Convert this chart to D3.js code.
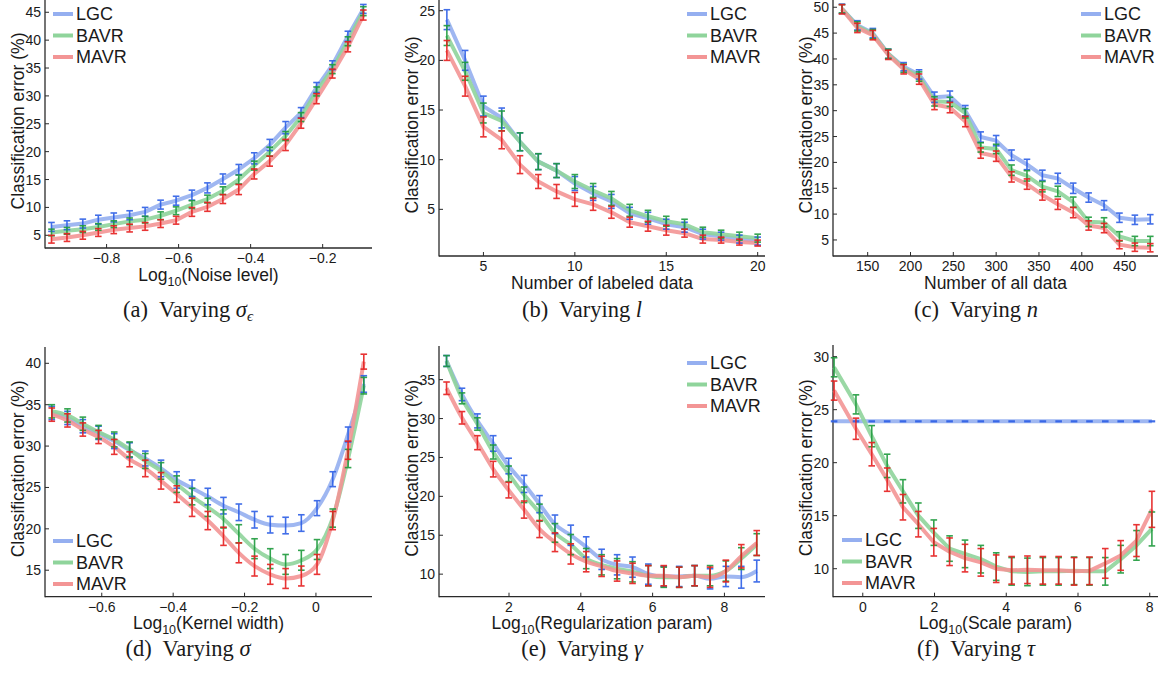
<!DOCTYPE html>
<html><head><meta charset="utf-8">
<script src="https://cdn.jsdelivr.net/npm/d3@7"></script>
<style>
body{margin:0;background:#fff}
svg text{font-family:"Liberation Sans",Arial,sans-serif;fill:#1a1a1a}
svg text.cap{font-family:"Liberation Serif","Times New Roman",serif}
</style></head><body>
<svg id="fig" width="1159" height="677"></svg>
<script>
const seriesNames = ["LGC", "BAVR", "MAVR"];
const lineColors = ["#95aff0", "#8fd49b", "#f39595"];
const barColors = ["#2d5fe6", "#1e9b3d", "#e61f1f"];

// (a) noise level
const xA = [-0.953,-0.910,-0.866,-0.823,-0.780,-0.736,-0.693,-0.650,-0.607,-0.563,-0.520,-0.477,-0.433,-0.390,-0.347,-0.303,-0.260,-0.217,-0.173,-0.130,-0.087];
const aLGC  = [6.5,6.8,7.1,7.8,8.2,8.6,9.2,10.5,11.2,12.2,13.5,15.1,16.8,18.8,21.2,24.3,27.0,31.5,35.5,40.7,45.6];
const aBAVR = [5.5,5.8,6.1,6.5,7.0,7.5,7.8,8.5,9.4,10.5,11.5,13.0,15.0,17.5,20.0,22.8,26.2,30.8,34.8,39.8,45.2];
const aMAVR = [4.3,4.6,5.0,5.5,6.0,6.3,6.6,7.1,7.7,9.2,10.1,11.5,13.2,16.0,18.3,21.2,25.1,29.5,34.0,38.8,44.5];
const aErrLGC  = [0.8,0.8,0.8,0.8,0.8,0.8,0.8,0.8,0.8,0.9,0.9,0.9,0.9,1.0,1.0,1.1,0.9,0.9,0.8,0.9,0.8];
const aErrBAVR = [0.6,0.6,0.6,0.6,0.6,0.6,0.6,0.7,0.7,0.7,0.7,0.7,0.8,0.8,0.8,0.8,0.8,0.8,0.8,0.8,0.8];
const aErrMAVR = [0.7,0.7,0.7,0.7,0.7,0.7,0.7,0.7,0.7,0.8,0.8,0.8,0.9,0.9,0.9,1.0,0.9,0.9,0.8,0.9,0.9];

// (b) labeled data
const xB = [3,4,5,6,7,8,9,10,11,12,13,14,15,16,17,18,19,20];
const bLGC  = [24.1,20.0,15.4,14.2,11.8,9.8,8.9,7.6,6.6,5.8,4.6,4.1,3.5,3.2,2.5,2.3,2.0,1.8];
const bBAVR = [22.5,18.9,14.7,13.9,11.8,9.8,8.9,7.8,6.9,6.1,4.9,4.3,3.8,3.5,2.7,2.5,2.3,2.1];
const bMAVR = [21.0,17.4,13.3,12.0,9.5,7.8,6.8,6.0,5.5,4.7,3.7,3.3,2.9,2.6,2.0,1.9,1.7,1.6];
const bErrLGC  = [1.0,1.0,1.0,1.0,0.9,0.8,0.7,0.7,0.7,0.7,0.6,0.6,0.5,0.5,0.5,0.4,0.4,0.4];
const bErrBAVR = [1.0,0.9,1.0,1.0,0.9,0.8,0.7,0.7,0.7,0.7,0.6,0.6,0.5,0.5,0.5,0.4,0.4,0.4];
const bErrMAVR = [1.0,1.0,1.0,0.9,0.9,0.7,0.7,0.7,0.6,0.6,0.5,0.5,0.5,0.4,0.4,0.3,0.3,0.3];

// (c) all data
const xC = [120,138,156,174,192,210,228,246,264,282,300,318,336,354,372,390,408,426,444,462,480];
const cLGC  = [49.7,46.5,45.0,41.0,38.5,37.0,32.6,32.8,30.0,24.9,24.2,21.4,19.6,17.5,16.9,15.0,13.2,11.7,9.3,8.9,9.0];
const cBAVR = [49.7,46.3,44.8,41.0,38.2,36.6,31.8,31.7,29.5,22.9,22.6,18.5,17.4,15.3,14.4,12.3,8.5,8.4,5.7,4.8,4.8];
const cMAVR = [49.6,46.0,44.6,40.8,38.0,36.1,31.2,30.6,27.9,21.8,21.2,17.2,15.8,13.7,11.9,10.3,7.8,7.3,4.1,3.6,3.5];
const cErrLGC  = [0.9,0.9,0.9,0.9,0.8,0.9,1.0,1.0,1.0,1.0,1.0,1.0,1.0,1.0,1.0,1.0,0.9,0.9,0.9,0.9,0.9];
const cErrBAVR = [0.8,0.9,0.9,0.9,0.8,0.9,0.9,0.9,0.9,0.9,0.9,1.0,1.0,1.0,1.0,1.0,0.9,0.9,0.9,0.9,0.9];
const cErrMAVR = [0.9,0.9,0.9,0.9,0.9,1.0,1.0,1.0,1.0,1.0,1.0,1.0,1.0,1.0,1.0,1.0,0.9,0.9,0.8,0.8,0.8];

// (d) kernel width
const xD = [-0.740,-0.696,-0.653,-0.609,-0.565,-0.522,-0.478,-0.434,-0.390,-0.347,-0.303,-0.259,-0.216,-0.172,-0.128,-0.085,-0.041,0.003,0.047,0.090,0.134];
const dLGC  = [34.0,33.4,32.4,31.6,30.6,29.5,28.5,27.3,25.9,24.9,23.9,22.8,22.0,21.1,20.5,20.4,20.7,22.5,26.0,31.4,37.5];
const dBAVR = [34.2,33.7,32.7,31.7,30.8,29.6,28.2,27.0,25.4,23.9,22.6,21.2,19.4,17.6,16.4,15.7,16.2,17.5,21.3,28.5,37.3];
const dMAVR = [33.8,33.1,32.0,31.1,29.9,28.4,27.3,25.8,24.2,22.6,21.0,19.1,17.1,15.5,14.5,14.0,14.3,15.7,21.0,29.5,40.2];
const dErrLGC  = [0.8,0.8,0.8,0.8,0.9,0.9,0.9,1.0,1.0,1.0,1.0,1.0,1.0,1.0,1.0,1.0,1.0,0.9,0.9,0.9,1.0];
const dErrBAVR = [0.8,0.8,0.8,0.8,0.9,0.9,0.9,1.0,1.0,1.0,1.1,1.1,1.1,1.2,1.2,1.2,1.2,1.2,1.1,1.1,1.0];
const dErrMAVR = [0.8,0.8,0.8,0.8,0.9,0.9,1.0,1.0,1.0,1.1,1.1,1.1,1.2,1.2,1.2,1.2,1.2,1.2,1.1,1.1,0.9];

// (e) regularization
const xE = [0.26,0.69,1.12,1.56,1.99,2.42,2.85,3.28,3.72,4.15,4.58,5.01,5.44,5.88,6.31,6.74,7.17,7.60,8.04,8.47,8.90];
const eLGC  = [37.4,33.1,29.7,26.8,23.9,21.6,19.0,16.4,15.0,13.5,11.9,11.2,10.9,10.0,9.7,9.7,9.8,9.4,9.7,9.6,10.4];
const eBAVR = [37.4,32.6,29.3,25.7,22.9,20.2,17.9,15.3,13.8,12.0,11.2,10.7,10.3,9.8,9.6,9.6,9.8,9.8,10.4,12.0,13.8];
const eMAVR = [33.9,30.1,26.9,23.5,20.8,18.3,15.8,14.1,12.6,11.6,11.0,10.4,10.1,9.8,9.8,9.6,9.8,9.6,10.4,12.3,14.0];
const eErrLGC  = [0.7,0.8,0.9,1.0,1.0,1.1,1.1,1.2,1.3,1.3,1.3,1.3,1.3,1.3,1.3,1.3,1.3,1.3,1.3,1.4,1.4];
const eErrBAVR = [0.7,0.7,0.8,0.9,1.0,1.0,1.1,1.2,1.3,1.3,1.3,1.3,1.3,1.3,1.3,1.3,1.3,1.3,1.3,1.4,1.4];
const eErrMAVR = [0.8,0.8,0.9,1.0,1.0,1.1,1.1,1.2,1.3,1.3,1.3,1.3,1.3,1.3,1.3,1.3,1.3,1.3,1.4,1.5,1.6];

// (f) scale param
const xF = [-0.80,-0.19,0.25,0.68,1.12,1.55,1.98,2.42,2.85,3.29,3.72,4.15,4.59,5.02,5.46,5.89,6.32,6.76,7.19,7.63,8.06];
const fLGC  = [23.9,23.9,23.9,23.9,23.9,23.9,23.9,23.9,23.9,23.9,23.9,23.9,23.9,23.9,23.9,23.9,23.9,23.9,23.9,23.9,23.9];
const fBAVR = [29.0,25.5,22.5,19.7,17.3,15.0,13.4,11.9,11.4,10.9,10.2,9.75,9.7,9.75,9.75,9.8,9.75,9.75,10.9,12.2,13.75];
const fMAVR = [26.8,23.2,20.8,18.4,15.8,14.2,12.5,11.6,11.0,10.6,10.0,9.85,9.9,9.85,9.85,9.75,9.8,10.5,11.25,12.65,15.6];
const fErrLGC  = [0,0,0,0,0,0,0,0,0,0,0,0,0,0,0,0,0,0,0,0,0];
const fErrBAVR = [0.9,0.9,1.0,1.1,1.1,1.2,1.2,1.2,1.3,1.3,1.3,1.3,1.3,1.3,1.3,1.3,1.3,1.3,1.3,1.4,1.6];
const fErrMAVR = [0.9,1.0,1.1,1.1,1.2,1.2,1.3,1.3,1.3,1.3,1.3,1.3,1.3,1.3,1.3,1.3,1.3,1.4,1.4,1.5,1.7];

const svg = d3.select("#fig");

const panels = [
  {x:xA, ys:[aLGC,aBAVR,aMAVR], es:[aErrLGC,aErrBAVR,aErrMAVR], xr:[45,372], xd:[-0.971,-0.063], yr:[248,0], yd:[2.72,47.2],
   xt:[-0.8,-0.6,-0.4,-0.2], yt:[5,10,15,20,25,30,35,40,45], xl:["Log","10","(Noise level)"], cap:"a", sym:"σ", sub:"ϵ", lg:[53,14], top:0, curve:d3.curveLinear},
  {x:xB, ys:[bLGC,bBAVR,bMAVR], es:[bErrLGC,bErrBAVR,bErrMAVR], xr:[439,765], xd:[2.57,20.4], yr:[256,0], yd:[0.3,26.08],
   xt:[5,10,15,20], yt:[5,10,15,20,25], xl:["Number of labeled data"], cap:"b", sym:"l", lg:[687,14], top:0, curve:d3.curveLinear},
  {x:xC, ys:[cLGC,cBAVR,cMAVR], es:[cErrLGC,cErrBAVR,cErrMAVR], xr:[833,1158], xd:[109.5,489], yr:[256,0], yd:[1.9,51.4],
   xt:[150,200,250,300,350,400,450], yt:[5,10,15,20,25,30,35,40,45,50], xl:["Number of all data"], cap:"c", sym:"n", lg:[1081,14], top:0, curve:d3.curveLinear},
  {x:xD, ys:[dLGC,dBAVR,dMAVR], es:[dErrLGC,dErrBAVR,dErrMAVR], xr:[45,372], xd:[-0.759,0.157], yr:[596.7,348], yd:[11.8,41.85],
   xt:[-0.6,-0.4,-0.2,0], yt:[15,20,25,30,35,40], xl:["Log","10","(Kernel width)"], cap:"d", sym:"σ", lg:[53,541], top:347, curve:d3.curveMonotoneX},
  {x:xE, ys:[eLGC,eBAVR,eMAVR], es:[eErrLGC,eErrBAVR,eErrMAVR], xr:[439,765], xd:[0.05,9.13], yr:[596.7,347], yd:[7.1,39.2],
   xt:[2,4,6,8], yt:[10,15,20,25,30,35], xl:["Log","10","(Regularization param)"], cap:"e", sym:"γ", lg:[687,363], top:346, curve:d3.curveMonotoneX},
  {x:xF, ys:[fLGC,fBAVR,fMAVR], es:[fErrLGC,fErrBAVR,fErrMAVR], xr:[833,1158], xd:[-0.83,8.23], yr:[596.7,345], yd:[7.36,31.1],
   xt:[0,2,4,6,8], yt:[10,15,20,25,30], xl:["Log","10","(Scale param)"], cap:"f", sym:"τ", lg:[842,540], top:345, curve:d3.curveLinear}
];

const capBase = [317, 317, 317, 656, 656, 656];

panels.forEach((p, pi) => {
  const x = d3.scaleLinear().domain(p.xd).range(p.xr);
  const y = d3.scaleLinear().domain(p.yd).range(p.yr);
  const g = svg.append("g");
  const fmt = d3.format("");

  // axes
  g.append("line").attr("x1", p.xr[0]).attr("x2", p.xr[0]).attr("y1", p.top).attr("y2", p.yr[0] + 0.5)
    .attr("stroke", "#2a2a2a").attr("stroke-width", 1.3);
  g.append("line").attr("x1", p.xr[0]).attr("x2", p.xr[1]).attr("y1", p.yr[0]).attr("y2", p.yr[0])
    .attr("stroke", "#2a2a2a").attr("stroke-width", 1.3);

  p.yt.forEach(t => {
    g.append("line").attr("x1", p.xr[0]).attr("x2", p.xr[0] + 4).attr("y1", y(t)).attr("y2", y(t)).attr("stroke", "#2a2a2a");
    g.append("text").attr("x", p.xr[0] - 4).attr("y", y(t)).attr("dy", "0.36em").attr("text-anchor", "end")
      .style("font-size", "14px").text(fmt(t));
  });
  p.xt.forEach(t => {
    g.append("line").attr("x1", x(t)).attr("x2", x(t)).attr("y1", p.yr[0]).attr("y2", p.yr[0] - 4).attr("stroke", "#2a2a2a");
    g.append("text").attr("x", x(t)).attr("y", p.yr[0] + 15).attr("text-anchor", "middle")
      .style("font-size", "14px").text(fmt(t));
  });

  // axis labels
  const xl = g.append("text").attr("x", (p.xr[0] + p.xr[1]) / 2).attr("y", p.yr[0] + 32.5)
    .attr("text-anchor", "middle").style("font-size", "17.5px");
  if (p.xl.length === 3) {
    xl.append("tspan").text(p.xl[0]);
    xl.append("tspan").attr("dy", 5).style("font-size", "12.5px").text(p.xl[1]);
    xl.append("tspan").attr("dy", -5).text(p.xl[2]);
  } else xl.text(p.xl[0]);

  const ym = (p.yr[0] + p.top) / 2 - 3;
  g.append("text").attr("transform", `translate(${p.xr[0] - 21},${ym}) rotate(-90)`)
    .attr("text-anchor", "middle").style("font-size", "17.5px").text("Classification error (%)");

  // caption
  const cap = g.append("text").attr("class", "cap").attr("x", p.xr[0] + 143).attr("y", capBase[pi])
    .attr("text-anchor", "middle").style("font-size", "22.5px").attr("xml:space", "preserve");
  cap.append("tspan").text(`(${p.cap})  Varying `);
  cap.append("tspan").style("font-style", "italic").text(p.sym);
  if (p.sub) cap.append("tspan").attr("dy", 4).style("font-size", "15px").style("font-style", "italic").text(p.sub);

  // lines
  const line = d3.line().x((d, i) => x(p.x[i])).y(d => y(d)).curve(p.curve);
  p.ys.forEach((ys, si) => {
    g.append("path").datum(ys).attr("d", line).attr("fill", "none")
      .attr("stroke", lineColors[si]).attr("stroke-width", 4).attr("stroke-opacity", 0.9)
      .attr("stroke-linejoin", "round");
  });

  // error bars
  p.ys.forEach((ys, si) => {
    const eb = g.append("g").attr("stroke", barColors[si]).attr("stroke-width", 1.6).attr("opacity", 0.9);
    ys.forEach((v, i) => {
      const e = p.es[si][i];
      const cx = x(p.x[i]);
      const y1 = y(v - e), y2 = y(v + e);
      if (e > 0) eb.append("line").attr("x1", cx).attr("x2", cx).attr("y1", y1).attr("y2", y2);
      eb.append("line").attr("x1", cx - 3.3).attr("x2", cx + 3.3).attr("y1", y1).attr("y2", y1)
        .attr("stroke-width", e > 0 ? 1.6 : 2.2);
      if (e > 0) eb.append("line").attr("x1", cx - 3.3).attr("x2", cx + 3.3).attr("y1", y2).attr("y2", y2);
    });
  });

  // legend
  seriesNames.forEach((n, si) => {
    const ly = p.lg[1] + si * 21.5;
    g.append("line").attr("x1", p.lg[0]).attr("x2", p.lg[0] + 20).attr("y1", ly).attr("y2", ly)
      .attr("stroke", lineColors[si]).attr("stroke-width", 4);
    g.append("text").attr("x", p.lg[0] + 23).attr("y", ly).attr("dy", "0.36em")
      .style("font-size", "18px").text(n);
  });
});
</script>
</body></html>
